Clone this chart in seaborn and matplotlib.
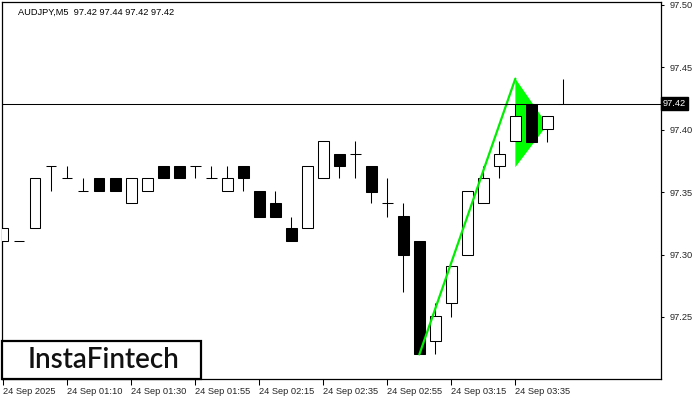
import matplotlib
matplotlib.use("Agg")
import matplotlib.pyplot as plt
import matplotlib.transforms as mtransforms
from matplotlib.patches import Polygon, Rectangle
import seaborn as sns
import pandas as pd

# ---- data ----
opens = [97.311, 97.311, 97.321, 97.371, 97.361, 97.351, 97.361, 97.361, 97.341, 97.351,
         97.371, 97.371, 97.371, 97.361, 97.351, 97.371, 97.351, 97.341, 97.321, 97.321,
         97.361, 97.381, 97.381, 97.371, 97.341, 97.331, 97.311, 97.231, 97.261, 97.300,
         97.341, 97.371, 97.391, 97.421, 97.401, 97.421]
highs = [97.321, 97.311, 97.361, 97.371, 97.371, 97.361, 97.361, 97.361, 97.361, 97.361,
         97.371, 97.371, 97.371, 97.371, 97.371, 97.371, 97.351, 97.351, 97.330, 97.371,
         97.391, 97.381, 97.391, 97.371, 97.361, 97.341, 97.311, 97.261, 97.291, 97.351,
         97.371, 97.391, 97.421, 97.421, 97.411, 97.441]
lows = [97.311, 97.311, 97.321, 97.351, 97.361, 97.351, 97.351, 97.351, 97.341, 97.351,
        97.361, 97.361, 97.361, 97.361, 97.351, 97.351, 97.330, 97.330, 97.311, 97.321,
        97.361, 97.361, 97.361, 97.341, 97.330, 97.270, 97.220, 97.220, 97.250, 97.300,
        97.341, 97.361, 97.391, 97.390, 97.390, 97.421]
closes = [97.321, 97.311, 97.361, 97.371, 97.361, 97.351, 97.351, 97.351, 97.361, 97.361,
          97.361, 97.361, 97.371, 97.361, 97.361, 97.361, 97.330, 97.330, 97.311, 97.371,
          97.391, 97.371, 97.381, 97.350, 97.341, 97.300, 97.220, 97.251, 97.291, 97.351,
          97.361, 97.381, 97.411, 97.390, 97.411, 97.421]

tick_positions = [0, 4, 8, 12, 16, 20, 24, 28, 32]
tick_labels = ["24 Sep 2025", "24 Sep 01:10", "24 Sep 01:30", "24 Sep 01:55",
               "24 Sep 02:15", "24 Sep 02:35", "24 Sep 02:55", "24 Sep 03:15",
               "24 Sep 03:35"]
price_ticks = [97.25, 97.30, 97.35, 97.40, 97.45, 97.50]
current_price = 97.421
title_text = "AUDJPY,M5  97.42 97.44 97.42 97.42"
logo_text = "InstaFintech"

impulse_x = [26, 32]
impulse_y = [97.220, 97.441]
pennant_x = [32, 32, 34]
pennant_y = [97.441, 97.370, 97.404]

# ---- styling ----
sns.set_style("white")
plt.rcParams['font.family'] = ['Liberation Sans', 'DejaVu Sans']

fig = plt.figure(figsize=(7, 4), dpi=100)
ax = fig.add_axes([2 / 700, 21 / 400, 659 / 700, 377 / 400])

BODY_W = 0.65
LW = 0.75

# pennant (behind candles)
ax.add_patch(Polygon(list(zip(pennant_x, pennant_y)), closed=True,
                     facecolor="#00ff00", edgecolor="none", zorder=1))

# candles
for i, (o, h, l, c) in enumerate(zip(opens, highs, lows, closes)):
    if h > l:
        ax.vlines(i, l, h, color="black", lw=LW, zorder=2)
    if abs(c - o) < 1e-9:
        ax.hlines(o, i - BODY_W / 2, i + BODY_W / 2, color="black", lw=LW, zorder=3)
    else:
        bottom = min(o, c)
        ax.add_patch(Rectangle((i - BODY_W / 2, bottom), BODY_W, abs(c - o),
                               facecolor="white" if c > o else "black",
                               edgecolor="black", lw=LW, zorder=3))

# impulse line
imp = pd.DataFrame({"x": impulse_x, "y": impulse_y})
sns.lineplot(data=imp, x="x", y="y", ax=ax, color="#00ee00", lw=1.6, zorder=4)

# current price line
ax.axhline(current_price, color="black", lw=LW, zorder=5)

ax.set_xlim(-0.08, 41.1)
ax.set_ylim(97.50 - 374 / 1248, 97.50 + 3 / 1248)

ax.set_xticks(tick_positions)
ax.set_xticklabels(tick_labels, ha="left", fontsize=6.7)
for lab in ax.get_xticklabels():
    lab.set_transform(lab.get_transform() + mtransforms.ScaledTranslation(-1 / 100, 0, fig.dpi_scale_trans))
ax.yaxis.tick_right()
ax.set_yticks(price_ticks)
ax.set_yticklabels([f"{v:.2f}" for v in price_ticks], fontsize=6.7)
ax.tick_params(axis="x", direction="out", length=4, width=0.75, pad=2, color="black", bottom=True)
ax.tick_params(axis="y", direction="out", length=2, width=0.75, pad=4, color="black", right=True)
ax.set_xlabel("")
ax.set_ylabel("")
for s in ax.spines.values():
    s.set_color("black")
    s.set_linewidth(0.9)

# current price box on the right
trans = mtransforms.blended_transform_factory(ax.transAxes, ax.transData)
ax.text(1.003, current_price, f"{current_price:.2f}", transform=trans, fontsize=6.7,
        color="white", va="center", ha="left", zorder=6, clip_on=False,
        bbox=dict(boxstyle="square,pad=0.25", facecolor="black", edgecolor="black"))

# title
ax.text(16 / 659, 1 - 10 / 377, title_text, transform=ax.transAxes, fontsize=6.7,
        color="black", va="center", ha="left")

# logo box
ax.add_patch(Rectangle((0.0, 0.0), 199 / 659, 38 / 377, transform=ax.transAxes,
                       facecolor="white", edgecolor="black", lw=1.6, zorder=7, clip_on=False))
ax.text(101 / 659, 19 / 377, logo_text, transform=ax.transAxes, fontsize=20,
        family=["Lato", "DejaVu Sans"], fontweight="semibold", color="#111111",
        va="center", ha="center", zorder=8)

fig.savefig("out.png", dpi=100)
